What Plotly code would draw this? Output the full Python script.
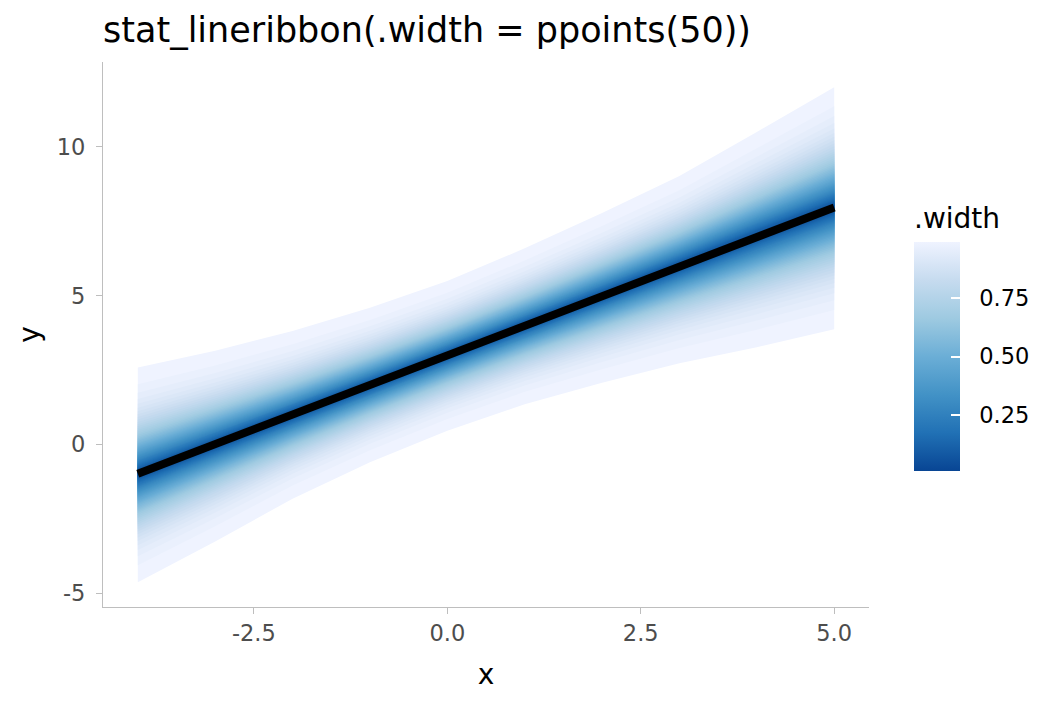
import plotly.graph_objects as go
from statistics import NormalDist

# values
x_vals = [-4, -3, -2, -1, 0, 1, 2, 3, 4, 5]
median_y = [-0.98, 0.02, 1.0, 2.0, 3.0, 4.0, 5.0, 6.0, 7.0, 7.96]
upper_99 = [2.59, 3.15, 3.81, 4.59, 5.49, 6.59, 7.78, 9.02, 10.5, 12.0]
lower_99 = [-4.63, -3.26, -1.82, -0.60, 0.46, 1.35, 2.07, 2.73, 3.27, 3.87]

# .width = ppoints(50)
widths = [0.01, 0.03, 0.05, 0.07, 0.09, 0.11, 0.13, 0.15, 0.17, 0.19,
          0.21, 0.23, 0.25, 0.27, 0.29, 0.31, 0.33, 0.35, 0.37, 0.39,
          0.41, 0.43, 0.45, 0.47, 0.49, 0.51, 0.53, 0.55, 0.57, 0.59,
          0.61, 0.63, 0.65, 0.67, 0.69, 0.71, 0.73, 0.75, 0.77, 0.79,
          0.81, 0.83, 0.85, 0.87, 0.89, 0.91, 0.93, 0.95, 0.97, 0.99]

# brewer Blues (7), dark for small widths
blues = ["#084594", "#2171B5", "#4292C6", "#6BAED6", "#9ECAE1", "#C6DBEF", "#EFF3FF"]
w_min, w_max = widths[0], widths[-1]


def hex_rgb(h):
    return tuple(int(h[i:i + 2], 16) for i in (1, 3, 5))


def width_color(w):
    t = (w - w_min) / (w_max - w_min) * (len(blues) - 1)
    i = min(int(t), len(blues) - 2)
    f = t - i
    a, b = hex_rgb(blues[i]), hex_rgb(blues[i + 1])
    c = [round(a[k] + (b[k] - a[k]) * f) for k in range(3)]
    return "rgb(%d,%d,%d)" % tuple(c)


nd = NormalDist()
z_outer = nd.inv_cdf((1 + w_max) / 2)

fig = go.Figure()

# ribbons, widest first so the narrow ones sit on top
for w in sorted(widths, reverse=True):
    r = nd.inv_cdf((1 + w) / 2) / z_outer
    up = [m + (u - m) * r for m, u in zip(median_y, upper_99)]
    lo = [m - (m - l) * r for m, l in zip(median_y, lower_99)]
    fig.add_trace(go.Scatter(
        x=x_vals + x_vals[::-1], y=up + lo[::-1],
        mode="lines", fill="toself", fillcolor=width_color(w),
        line=dict(width=0), hoverinfo="skip", showlegend=False))

# median line
fig.add_trace(go.Scatter(x=x_vals, y=median_y, mode="lines",
                         line=dict(color="black", width=8), showlegend=False))

# colour bar for .width
nb = "\u00a0\u00a0"
fig.add_trace(go.Scatter(
    x=[None], y=[None], mode="markers", showlegend=False, hoverinfo="skip",
    marker=dict(
        color=[0.5], cmin=w_min, cmax=w_max,
        colorscale=[[i / (len(blues) - 1), c] for i, c in enumerate(blues)],
        showscale=True,
        colorbar=dict(
            title=dict(text=".width", side="top", font=dict(size=28, color="black")),
            thickness=46, thicknessmode="pixels",
            len=267, lenmode="pixels",
            x=(914 - 103) / 766, xanchor="left",
            y=(607 - 471) / 545, yanchor="bottom",
            tickvals=[0.25, 0.5, 0.75], ticktext=[nb + "0.25", nb + "0.50", nb + "0.75"],
            ticks="inside", ticklen=9, tickcolor="white", tickwidth=1.5,
            tickfont=dict(size=22.5, color="black"),
            outlinewidth=0, xpad=0, ypad=0,
        ),
    ),
))

fig.update_layout(
    width=1056, height=704,
    margin=dict(l=103, r=187, t=62, b=97),
    plot_bgcolor="white", paper_bgcolor="white",
    font=dict(family="DejaVu Sans", color="black"),
    title=dict(text="stat_lineribbon(.width = ppoints(50))",
               x=103 / 1056, xanchor="left", y=1 - 30 / 704, yanchor="middle",
               font=dict(size=35, color="black")),
    showlegend=False,
)

axis_style = dict(showgrid=False, zeroline=False, showline=True, linecolor="#BEBEBE",
                  linewidth=1.3, ticks="outside", ticklen=6, tickcolor="#BEBEBE",
                  tickwidth=1.3, tickfont=dict(size=22.5, color="#4D4D4D"))

fig.update_xaxes(range=[-4.45, 5.45], tickvals=[-2.5, 0, 2.5, 5],
                 ticktext=["-2.5", "0.0", "2.5", "5.0"],
                 title=dict(text="x", font=dict(size=28), standoff=19), **axis_style)
fig.update_yaxes(range=[-5.46, 12.85], tickvals=[-5, 0, 5, 10],
                 ticktext=["-5", "0", "5", "10"], ticklabelstandoff=6,
                 title=dict(text="y", font=dict(size=28), standoff=8), **axis_style)

fig.write_html("out.html", config={"displayModeBar": False},
               post_script="document.body.style.margin='0px';")
